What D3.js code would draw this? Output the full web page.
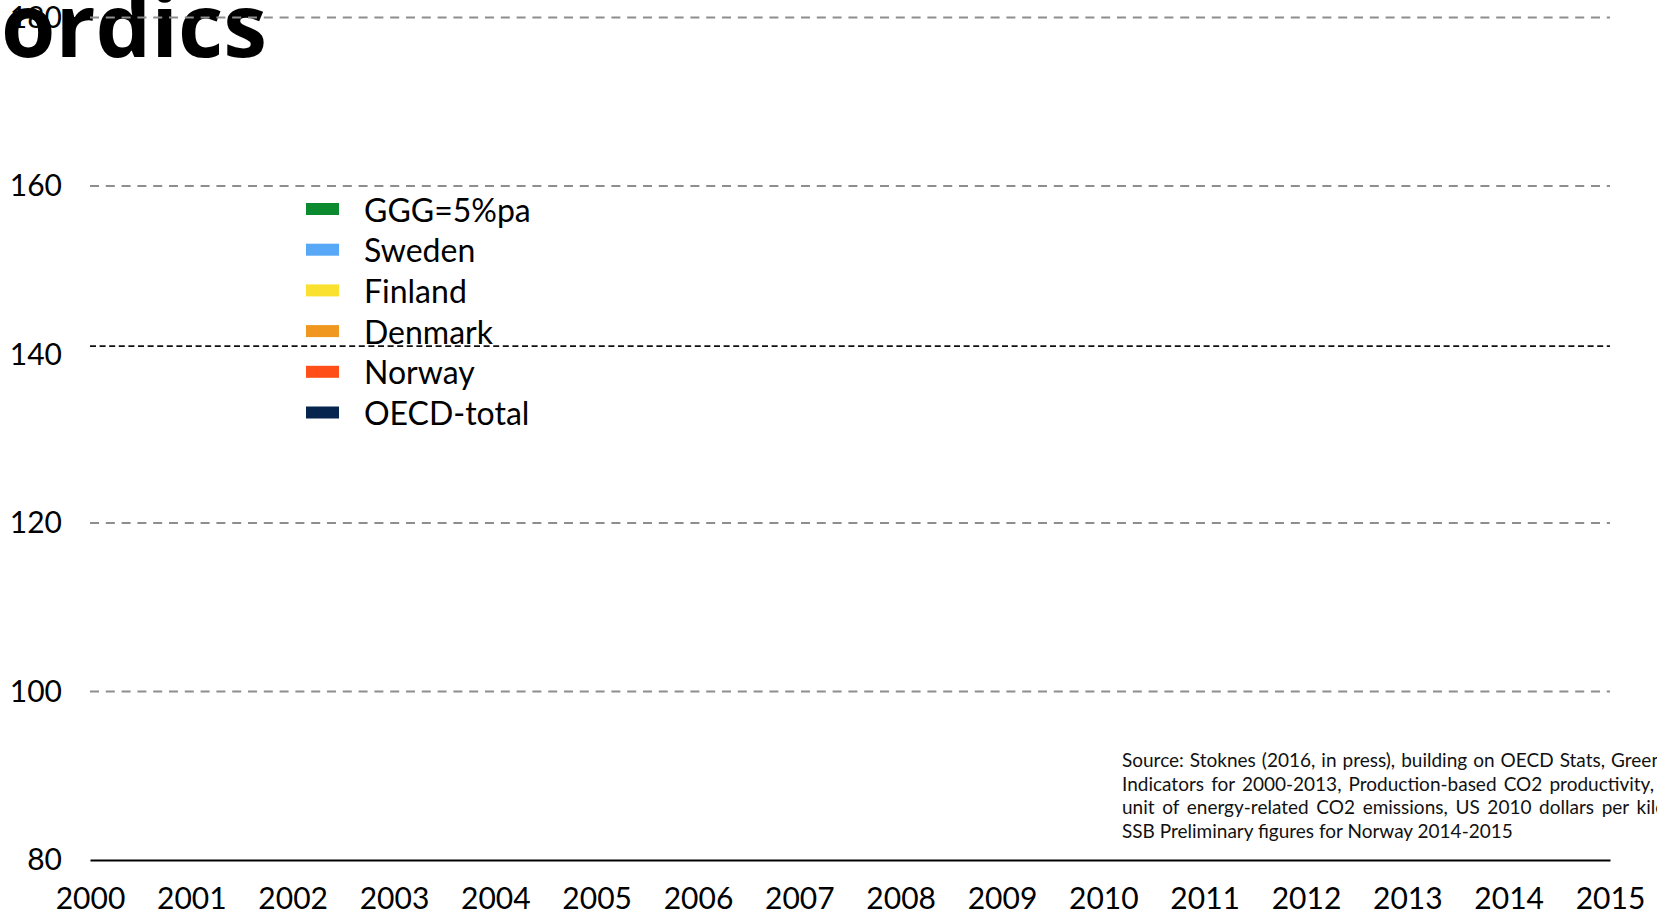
<!doctype html>
<html lang="en">
<head>
    <meta charset="UTF-8">
    <title>CO2 productivity Nordics</title>
    <style>
        body { margin: 0; background: #fff; overflow: hidden; }
        svg { display: block; }
        .tick text { font-family: Lato, 'Open Sans', sans-serif; font-size: 30px; fill: #000; }
        .legend text { font-family: Lato, 'Open Sans', sans-serif; font-size: 32px; fill: #000; }
        .source text { font-family: Lato, 'Open Sans', sans-serif; font-size: 19px; fill: #111; }
        #title { font-family: 'Open Sans', sans-serif; font-weight: 700; font-size: 88px; }
    </style>
</head>
<body>
<div class="chart"></div>

<script src="https://d3js.org/d3.v7.min.js"></script>
<script>
	// data
	const years = [2000, 2001, 2002, 2003, 2004, 2005, 2006, 2007, 2008, 2009, 2010, 2011, 2012, 2013, 2014, 2015]
	const yTicks = [80, 100, 120, 140, 160, 180]
	const seriesNames = ['GGG=5%pa', 'Sweden', 'Finland', 'Denmark', 'Norway', 'OECD-total']
	const seriesColors = ['#0b8a2f', '#57a9f7', '#fbe12f', '#f0971f', '#ff4e17', '#05254f']
	// no series values are visible inside the plotted range of the reference
	const seriesValues = [[], [], [], [], [], []]
	const refValue = 141
	const sourceLines = [
		'Source: Stoknes (2016, in press), building on OECD Stats, Green',
		'Indicators for 2000-2013, Production-based CO2 productivity,',
		'unit of energy-related CO2 emissions, US 2010 dollars per kilogram,',
		'SSB Preliminary figures for Norway 2014-2015'
	]
	const sourceEnds = [1662, 1654, 1712, null]

	const dimensions = {
		width: 1657,
		height: 914,
		left: 90,
		right: 1610,
		top: 17.5,
		bottom: 860
	}

	const svg = d3.select('.chart')
		.append('svg')
		.attr('width', dimensions.width)
		.attr('height', dimensions.height)

	// Title (runs off the left edge)
	svg.append('text')
		.attr('id', 'title')
		.attr('x', 267)
		.attr('y', 57)
		.attr('text-anchor', 'end')
		.text('Nordics')

	const xScale = d3.scaleLinear()
		.domain([years[0], years[years.length - 1]])
		.range([dimensions.left, dimensions.right])
	const yScale = d3.scaleLinear()
		.domain([80, 180])
		.range([dimensions.bottom, dimensions.top])

	// gridlines
	svg.append('g')
		.selectAll('line')
		.data(yTicks.filter(d => d !== 80 && d !== 140))
		.enter().append('line')
		.attr('x1', xScale.range()[0])
		.attr('x2', xScale.range()[1])
		.attr('y1', d => yScale(d))
		.attr('y2', d => yScale(d))
		.attr('stroke', '#8e8e8e')
		.attr('stroke-width', 2)
		.attr('stroke-dasharray', '9,6.8')

	// black dashed reference line
	svg.append('line')
		.attr('x1', xScale.range()[0])
		.attr('x2', xScale.range()[1])
		.attr('y1', yScale(refValue))
		.attr('y2', yScale(refValue))
		.attr('stroke', '#111')
		.attr('stroke-width', 1.6)
		.attr('stroke-dasharray', '6,3.6')

	// Y Axis
	const yAxis = d3.axisLeft(yScale)
		.tickValues(yTicks)
		.tickSize(0)
		.tickPadding(28)
		.tickFormat(d3.format('d'))
	svg.append('g')
		.attr('transform', 'translate(' + dimensions.left + ',0)')
		.call(yAxis)
		.call(g => g.select('.domain').remove())

	// X Axis
	const xAxis = d3.axisBottom(xScale)
		.tickValues(years)
		.tickSize(0)
		.tickPadding(28)
		.tickFormat(d3.format('d'))
	svg.append('g')
		.attr('transform', 'translate(0,' + dimensions.bottom + ')')
		.call(xAxis)
		.call(g => g.select('.domain')
			.attr('stroke', '#000')
			.attr('stroke-width', 2))

	// lines
	const line = d3.line()
		.x((d, i) => xScale(years[i]))
		.y(d => yScale(d))
	svg.append('g')
		.selectAll('path')
		.data(seriesValues)
		.enter().append('path')
		.attr('fill', 'none')
		.attr('stroke', (d, i) => seriesColors[i])
		.attr('stroke-width', 3)
		.attr('d', d => d.length ? line(d) : null)

	// Legend
	const legendY = d3.scalePoint()
		.domain(seriesNames)
		.range([209, 412.5])
	const legend = svg.append('g')
		.attr('class', 'legend')
	legend.selectAll('rect')
		.data(seriesNames)
		.enter().append('rect')
		.attr('x', 306)
		.attr('y', d => legendY(d) - 6)
		.attr('width', 33)
		.attr('height', 12)
		.attr('fill', (d, i) => seriesColors[i])
	legend.selectAll('text')
		.data(seriesNames)
		.enter().append('text')
		.attr('x', 364)
		.attr('y', d => legendY(d))
		.attr('dominant-baseline', 'central')
		.text(d => d)

	// Source note, justified lines
	const source = svg.append('g')
		.attr('class', 'source')
	source.selectAll('text')
		.data(sourceLines)
		.enter().append('text')
		.attr('x', 1122)
		.attr('y', (d, i) => 767 + i * 23.5)
		.text(d => d)
		.each(function(d, i) {
			if (!sourceEnds[i]) return
			const natural = this.getComputedTextLength()
			const spaces = d.split(' ').length - 1
			const extra = (sourceEnds[i] - 1122 - natural) / spaces
			d3.select(this).style('word-spacing', extra + 'px')
		})
</script>
</body>
</html>
